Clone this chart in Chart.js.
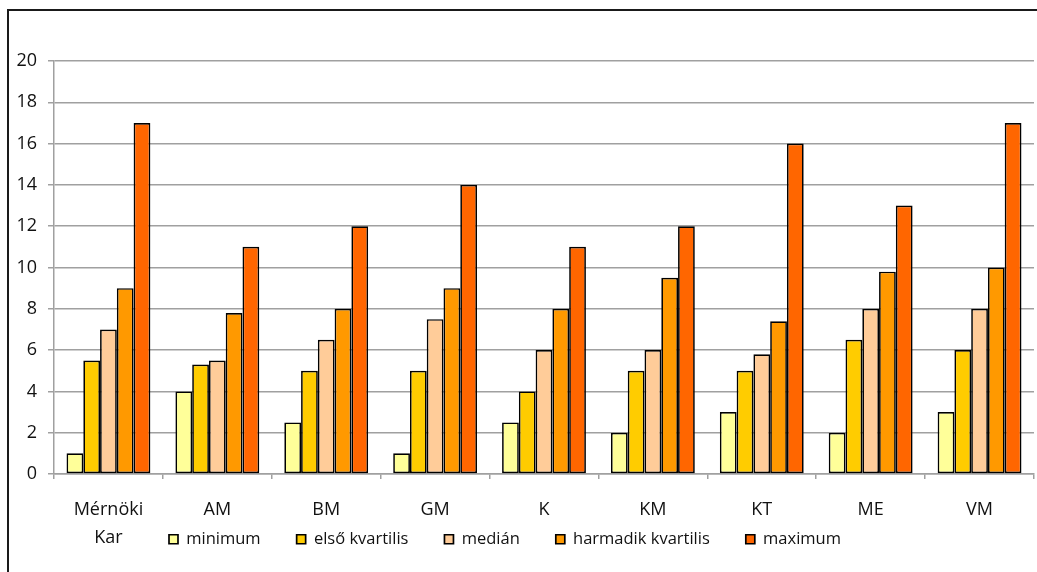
<!DOCTYPE html>
<html>
<head>
<meta charset="utf-8">
<script src="https://cdn.jsdelivr.net/npm/chart.js@4/dist/chart.umd.min.js"></script>
<style>
    html, body {margin: 0; padding: 0; background: #fff;}
    #chart-wrapper {position: relative; width: 1037px; height: 572px; overflow: hidden;}
    #chart-frame {position: absolute; left: 7px; top: 9px; width: 1100px; height: 700px; border-left: 2px solid #1a1a1a; border-top: 2px solid #1a1a1a;}
    #kvartilis-chart {position: absolute; left: 0; top: 0;}
</style>
</head>
<body>
<div id="chart-wrapper">
    <div id="chart-frame"></div>
    <canvas id="kvartilis-chart" width="1037" height="572"></canvas>
</div>
<script>
const categories = [["Mérnöki", "Kar"], "AM", "BM", "GM", "K", "KM", "KT", "ME", "VM"];
const seriesNames = ["minimum", "első kvartilis", "medián", "harmadik kvartilis", "maximum"];
const minimum = [1, 4, 2.5, 1, 2.5, 2, 3, 2, 3];
const elsoKvartilis = [5.5, 5.3, 5, 5, 4, 5, 5, 6.5, 6];
const median = [7, 5.5, 6.5, 7.5, 6, 6, 5.8, 8, 8];
const harmadikKvartilis = [9, 7.8, 8, 9, 8, 9.5, 7.4, 9.8, 10];
const maximum = [17, 11, 12, 14, 11, 12, 16, 13, 17];
const yTicks = [0, 2, 4, 6, 8, 10, 12, 14, 16, 18, 20];

const seriesValues = [minimum, elsoKvartilis, median, harmadikKvartilis, maximum];
const seriesColors = ["#FFFF99", "#FFCC00", "#FFCC99", "#FF9900", "#FF6600"];

const fontFamily = "'Open Sans', sans-serif";
const gridColor = "#a0a0a0";
const legendPadding = 36;

// Legend sits on the same line as the second row of the x labels,
// so move it up after layout and let the x labels use the space below
const moveLegendPlugin = {
    id: "moveLegend",
    afterLayout(chart){
        const legend = chart.legend;
        if (!legend) return;
        const height = legend.height;
        legend.top = 540 - legendPadding - 9;
        legend.bottom = legend.top + height;
        legend.left = 169 - legendPadding;
        legend.right = chart.width;
        chart.scales.x.bottom = chart.height;
    }
};

let datasets = [];
seriesNames.forEach((name, i) => {
    datasets.push({
        label: name,
        data: seriesValues[i],
        backgroundColor: seriesColors[i],
        borderColor: "#000",
        borderWidth: 1.7,
        borderSkipped: false,
        barPercentage: 1.0,
        categoryPercentage: 0.77,
    });
});

const chartCanvas = document.querySelector("#kvartilis-chart");

const barChartConfig = {
    type: "bar",
    data: {
        labels: categories,
        datasets: datasets
    },
    options: {
        responsive: false,
        animation: false,
        layout: {
            padding: {top: 61, right: 3, left: 0, bottom: 0}
        },
        scales: {
            x: {
                offset: true,
                grid: {
                    display: true,
                    drawOnChartArea: false,
                    drawTicks: true,
                    tickLength: 5,
                    offset: true,
                    color: gridColor,
                    lineWidth: 1.5
                },
                border: {
                    display: true,
                    color: gridColor,
                    width: 1.5
                },
                ticks: {
                    color: "#111",
                    padding: 17,
                    maxRotation: 0,
                    autoSkip: false,
                    font: {family: fontFamily, size: 18, lineHeight: 1.55}
                },
                afterFit: function(scale){
                    const legendHeight = scale.chart.legend ? scale.chart.legend.height : 0;
                    scale.height = 98 - legendHeight;
                }
            },
            y: {
                min: 0,
                max: 20,
                afterBuildTicks: function(scale){
                    scale.ticks = yTicks.map(v => ({value: v}));
                },
                grid: {
                    color: gridColor,
                    lineWidth: 1.5,
                    tickLength: 6
                },
                border: {
                    display: true,
                    color: gridColor,
                    width: 1.5
                },
                ticks: {
                    color: "#111",
                    padding: 11,
                    font: {family: fontFamily, size: 18}
                },
                afterFit: function(scale){
                    scale.width = 54;
                }
            }
        },
        plugins: {
            legend: {
                display: true,
                position: "bottom",
                align: "start",
                labels: {
                    boxWidth: 9,
                    boxHeight: 9,
                    padding: legendPadding,
                    color: "#111",
                    font: {family: fontFamily, size: 16.5}
                }
            },
            tooltip: {enabled: false}
        }
    },
    plugins: [moveLegendPlugin]
};

const kvartilisChart = new Chart(chartCanvas, barChartConfig);
</script>
</body>
</html>
